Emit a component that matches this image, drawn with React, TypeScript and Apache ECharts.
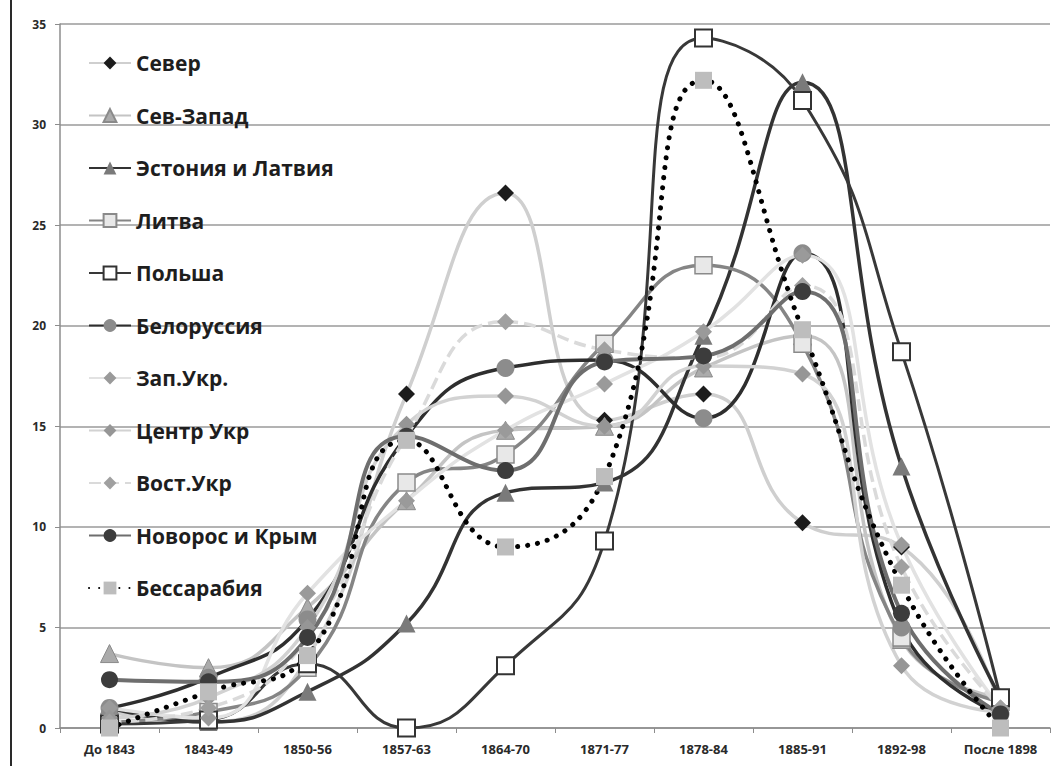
import React, { useEffect, useRef } from "react";
import * as echarts from "echarts";

const categories = ["До 1843", "1843-49", "1850-56", "1857-63", "1864-70", "1871-77", "1878-84", "1885-91", "1892-98", "После 1898"];

const sever = [0.8, 0.3, 3.5, 16.6, 26.6, 15.3, 16.6, 10.2, 9.0, 1.0];
const sevZapad = [3.7, 3.0, 6.0, 11.3, 14.8, 15.0, 17.9, 19.5, 4.4, 1.5];
const estonia = [1.0, 0.3, 1.8, 5.2, 11.7, 12.2, 19.5, 32.1, 13.0, 1.5];
const litva = [0.3, 0.8, 3.0, 12.2, 13.6, 19.1, 23.0, 19.1, 4.5, 1.3];
const polsha = [0.2, 0.4, 3.2, 0, 3.1, 9.3, 34.3, 31.2, 18.7, 1.5];
const belorussia = [1.0, 2.5, 5.4, 14.5, 17.9, 18.3, 15.4, 23.6, 5.0, 0.7];
const zapUkr = [1.0, 0.5, 6.7, 11.3, 14.8, 17.1, 19.7, 23.5, 9.1, 1.0];
const centrUkr = [0.5, 1.5, 5.0, 15.1, 16.5, 15.0, 18.0, 17.6, 3.1, 0.8];
const vostUkr = [0.3, 1.0, 4.5, 14.5, 20.2, 18.8, 18.4, 22.0, 8.0, 1.0];
const novoros = [2.4, 2.3, 4.5, 14.5, 12.8, 18.2, 18.5, 21.7, 5.7, 0.7];
const bessarabia = [0, 1.8, 3.6, 14.3, 9.0, 12.5, 32.2, 19.8, 7.1, 0];

const yTicks = { min: 0, max: 35, interval: 5 };

type Spec = {
  name: string;
  data: number[];
  line: string;
  width: number;
  dash?: any;
  cap?: string;
  symbol: string;
  size: number;
  fill: string;
  border?: string;
  borderWidth?: number;
};

const specs: Spec[] = [
  { name: "Север", data: sever, line: "#cfcfcf", width: 3.5, symbol: "diamond", size: 17, fill: "#1c1c1c" },
  { name: "Сев-Запад", data: sevZapad, line: "#c4c4c4", width: 3.5, symbol: "triangle", size: 18, fill: "#ababab", border: "#8a8a8a", borderWidth: 1 },
  { name: "Эстония и Латвия", data: estonia, line: "#333333", width: 3.5, symbol: "triangle", size: 18, fill: "#7a7a7a" },
  { name: "Литва", data: litva, line: "#858585", width: 3.5, symbol: "rect", size: 17, fill: "#e8e8e8", border: "#8a8a8a", borderWidth: 1.5 },
  { name: "Польша", data: polsha, line: "#383838", width: 3, symbol: "rect", size: 17, fill: "#ffffff", border: "#333333", borderWidth: 2 },
  { name: "Белоруссия", data: belorussia, line: "#2e2e2e", width: 3.5, symbol: "circle", size: 18, fill: "#8c8c8c" },
  { name: "Зап.Укр.", data: zapUkr, line: "#e2e2e2", width: 3.5, symbol: "diamond", size: 17, fill: "#9a9a9a" },
  { name: "Центр Укр", data: centrUkr, line: "#d2d2d2", width: 3.5, symbol: "diamond", size: 17, fill: "#969696" },
  { name: "Вост.Укр", data: vostUkr, line: "#dadada", width: 3.5, dash: [12, 6], symbol: "diamond", size: 17, fill: "#a0a0a0" },
  { name: "Новорос и Крым", data: novoros, line: "#6e6e6e", width: 4, symbol: "circle", size: 17, fill: "#3c3c3c" },
  { name: "Бессарабия", data: bessarabia, line: "#000000", width: 5, dash: [0.1, 10], cap: "round", symbol: "rect", size: 17, fill: "#bdbdbd" },
];

export default function App() {
  const ref = useRef<HTMLDivElement>(null);
  useEffect(() => {
    if (!ref.current) return;
    const chart = echarts.init(ref.current, null, { renderer: "svg" });
    const series = specs.map((s) => ({
      name: s.name,
      type: "line",
      data: s.data,
      smooth: 0.5,
      clip: false,
      symbol: s.symbol,
      symbolSize: s.size,
      showSymbol: true,
      lineStyle: {
        color: s.line,
        width: s.width,
        type: s.dash || "solid",
        cap: s.cap || "butt",
      },
      itemStyle: {
        color: s.fill,
        borderColor: s.border || s.fill,
        borderWidth: s.borderWidth || 0,
      },
      emphasis: { disabled: true },
    }));
    chart.setOption({
      animation: false,
      backgroundColor: "#ffffff",
      grid: { left: 60, right: 4, top: 24, bottom: 38, containLabel: false },
      legend: {
        orient: "vertical",
        left: 83,
        top: 46,
        itemWidth: 42,
        itemHeight: 16,
        itemGap: 28.5,
        textStyle: {
          fontFamily: "Open Sans",
          fontWeight: "bold",
          fontSize: 21,
          color: "#1e1e1e",
          lineHeight: 24,
        },
        data: specs.map((s) => s.name),
      },
      xAxis: {
        type: "category",
        data: categories,
        boundaryGap: true,
        axisLine: { lineStyle: { color: "#8c8c8c", width: 1.5 } },
        axisTick: { show: true, length: 5, alignWithLabel: false, lineStyle: { color: "#8c8c8c" } },
        axisLabel: { fontFamily: "Open Sans", fontWeight: "bold", fontSize: 13, color: "#2a2a2a", margin: 14 },
      },
      yAxis: {
        type: "value",
        min: yTicks.min,
        max: yTicks.max,
        interval: yTicks.interval,
        axisLine: { show: true, lineStyle: { color: "#8c8c8c", width: 1.5 } },
        axisTick: { show: true, length: 5, lineStyle: { color: "#8c8c8c" } },
        splitLine: { lineStyle: { color: "#9a9a9a", width: 1.5 } },
        axisLabel: { fontFamily: "Open Sans", fontWeight: "bold", fontSize: 12, color: "#2a2a2a", margin: 14 },
      },
      graphic: [
        { type: "line", shape: { x1: 11, y1: 0, x2: 11, y2: 766 }, style: { stroke: "#2a2a2a", lineWidth: 2 } },
      ],
      series,
    });
    return () => chart.dispose();
  }, []);
  return (
    <div
      ref={ref}
      style={{ position: "fixed", left: 0, top: 0, width: 1054, height: 766, background: "#fff" }}
    />
  );
}
